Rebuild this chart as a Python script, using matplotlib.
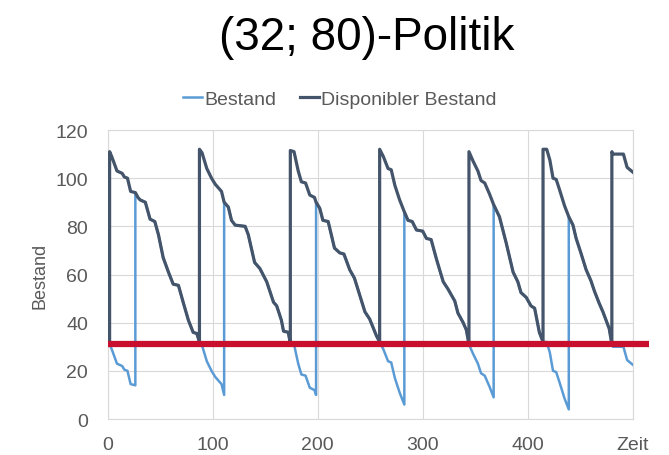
import numpy as np
import matplotlib.pyplot as plt

plt.rcParams['font.family'] = ['Liberation Sans', 'DejaVu Sans']

# Lagerverlauf (Bestand), Knickpunkte der Kurve; doppelte Zeitpunkte = Sprung
# offen = 1 solange eine Bestellung unterwegs ist
zeit = [2, 2, 4, 9, 14, 16, 19, 22, 26.5, 26.5, 29, 31, 36, 40.5, 45, 48.5, 53, 58, 62.5, 67.5,
        72, 77, 81.5, 85, 87.5,
        87.5, 90, 94.5, 99, 102.5, 108.5, 111, 111, 113, 115, 118, 121.5, 131, 134, 140, 145,
        151.5, 158, 161, 165.5, 167.5, 172, 174,
        174, 177.5, 181.5, 184.5, 188.5, 192.5, 197, 198.5, 198.5, 202, 205, 210, 216, 221, 225,
        230.5, 235, 245, 249.5, 256, 259,
        259, 262.5, 267, 270, 273.5, 278, 282.5, 282.5, 286, 290, 294, 300, 303.5, 308, 313,
        319.5, 324, 330.5, 333.5, 338.5, 341.5, 344,
        344, 348, 352.5, 355.5, 359, 363.5, 367.5, 367.5, 373, 379.5, 386, 390.5, 393.5, 398.5,
        403, 406.5, 411, 414.5,
        414.5, 418, 421, 424, 427, 430, 435, 439, 439, 443, 446, 450.5, 455.5, 460, 463.5, 468,
        471.5, 474.5, 477.5, 480,
        480, 481, 491, 494.5, 500]
bestand = [31, 31, 29, 23, 22, 20.5, 20, 14.5, 14, 94, 92, 91, 90, 83, 82, 76.5, 67, 61, 56, 55.5,
           48.5, 41, 36, 35.5, 32,
           32, 30.5, 24, 20, 17.5, 14.5, 10, 90, 89, 88, 82.5, 80.5, 80, 76.5, 65, 62.5,
           57, 48.5, 47, 41, 36.5, 36, 31.5,
           31.5, 31, 23, 18.5, 18, 13, 12, 10, 90, 87.5, 82.5, 82, 71, 69, 68.5,
           62, 58.5, 44.5, 41.5, 34.5, 32,
           32, 29, 24, 23.5, 17, 11, 6, 86, 82.5, 82, 78.5, 78, 75, 74.5, 66.5,
           57, 54, 49, 44, 40, 37, 31,
           31, 27, 23, 19, 18, 13.5, 9, 89, 84, 73, 61, 57, 52.5, 50.5,
           47, 46, 36, 32,
           32, 32, 27.5, 20, 19.5, 15.5, 8.5, 4, 84, 80.5, 75, 69, 62, 57.5, 53, 48,
           44.5, 41, 37.5, 31,
           31, 30, 30, 24.5, 22.5]
offen = [0, 1, 1, 1, 1, 1, 1, 1, 1, 0, 0, 0, 0, 0, 0, 0, 0, 0, 0, 0,
         0, 0, 0, 0, 0,
         1, 1, 1, 1, 1, 1, 1, 0, 0, 0, 0, 0, 0, 0, 0, 0,
         0, 0, 0, 0, 0, 0, 0,
         1, 1, 1, 1, 1, 1, 1, 1, 0, 0, 0, 0, 0, 0, 0,
         0, 0, 0, 0, 0, 0,
         1, 1, 1, 1, 1, 1, 1, 0, 0, 0, 0, 0, 0, 0, 0,
         0, 0, 0, 0, 0, 0, 0,
         1, 1, 1, 1, 1, 1, 1, 0, 0, 0, 0, 0, 0, 0,
         0, 0, 0, 0,
         1, 1, 1, 1, 1, 1, 1, 1, 0, 0, 0, 0, 0, 0, 0, 0,
         0, 0, 0, 0,
         1, 1, 1, 1, 1]

meldebestand = 31
bestellmenge = 80
x_ticks = [0, 100, 200, 300, 400, 500]
x_labels = ['0', '100', '200', '300', '400', 'Zeit']
y_ticks = [0, 20, 40, 60, 80, 100, 120]

zeit = np.array(zeit)
bestand = np.array(bestand)
disponibel = bestand + bestellmenge * np.array(offen)

grau = '#595959'
fig = plt.figure(figsize=(6.69, 4.56), dpi=100)
ax = fig.add_axes([0.1607, 0.0789, 0.7853, 0.6338])

ax.plot(zeit, bestand, color='#5B9BD5', lw=1.8, label='Bestand', zorder=3)
ax.plot(zeit, disponibel, color='#44546A', lw=2.3, label='Disponibler Bestand', zorder=4)
ax.plot([0, 515], [meldebestand, meldebestand], color='#C8102E', lw=4.5,
        solid_capstyle='butt', clip_on=False, zorder=5)

ax.set_xlim(0, 500)
ax.set_ylim(0, 120)
ax.set_xticks(x_ticks)
ax.set_xticklabels(x_labels)
ax.set_yticks(y_ticks)
ax.grid(True, color='#D9D9D9', lw=0.8)
ax.set_axisbelow(True)
for s in ax.spines.values():
    s.set_color('#D9D9D9')
    s.set_linewidth(0.8)
ax.tick_params(length=0, labelsize=14, colors=grau)
ax.tick_params(axis='x', pad=12)
ax.tick_params(axis='y', pad=14)
ax.set_ylabel('Bestand', fontsize=13, color=grau, labelpad=5)

fig.text(0.548, 0.917, '(32; 80)-Politik', fontsize=33, color='black', ha='center', va='center')
fig.legend(loc='center', bbox_to_anchor=(0.508, 0.78), ncol=2, frameon=False, fontsize=14,
           handlelength=1.0, handletextpad=0.1, columnspacing=1.2, labelcolor=grau)

fig.savefig('out.png', dpi=100)
